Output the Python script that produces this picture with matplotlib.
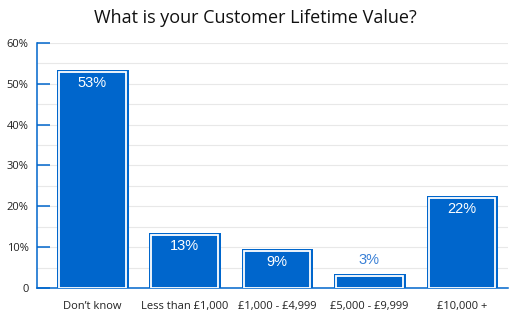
import matplotlib
matplotlib.use("Agg")
import matplotlib.pyplot as plt
from matplotlib.ticker import FixedLocator

categories = ["Don\u2019t know", "Less than \u00a31,000", "\u00a31,000 - \u00a34,999", "\u00a35,000 - \u00a39,999", "\u00a310,000 +"]
values = [53, 13, 9, 3, 22]
ytick_vals = [0, 10, 20, 30, 40, 50, 60]
ytick_labels = ["0", "10%", "20%", "30%", "40%", "50%", "60%"]

blue = "#0066CC"

fig = plt.figure(figsize=(5.1, 3.25), dpi=100)
ax = fig.add_axes([0.0725, 0.1138, 0.9235, 0.754])

x = list(range(len(categories)))
# outer blue ring
ax.bar(x, values, width=0.72, color=blue, edgecolor=blue, linewidth=3.6, zorder=2)
# white gap ring
ax.bar(x, values, width=0.72, color=blue, edgecolor="white", linewidth=1.3, zorder=3)

ax.set_xlim(-0.6, 4.5)
ax.set_ylim(0, 60)

ax.yaxis.set_major_locator(FixedLocator(ytick_vals))
ax.set_yticklabels(ytick_labels, fontsize=8, family="Open Sans", color="#222222")
ax.set_yticks(range(0, 61, 5), minor=True)
ax.grid(axis="y", which="both", color="#e8e8e8", linewidth=0.8, zorder=0)
ax.set_axisbelow(True)
ax.tick_params(axis="y", which="major", direction="in", length=9, width=1.1, color=blue, pad=6)
ax.tick_params(axis="y", which="minor", length=0)

ax.set_xticks(x)
ax.set_xticklabels(categories, fontsize=8, family="Open Sans", color="#222222")
ax.tick_params(axis="x", length=0, pad=9)

for s in ["top", "right"]:
    ax.spines[s].set_visible(False)
for s in ["left", "bottom"]:
    ax.spines[s].set_color(blue)
    ax.spines[s].set_linewidth(1.1)

for xi, v in zip(x, values):
    if v >= 8:
        ax.text(xi, v - 2.7, f"{v}%", ha="center", va="center", color="white",
                fontsize=10.5, family="Liberation Sans", zorder=5)
    else:
        ax.text(xi, v + 3.9, f"{v}%", ha="center", va="center", color="#3a80d6",
                fontsize=10.5, family="Liberation Sans", zorder=5)

fig.text(0.5, 0.945, "What is your Customer Lifetime Value?", ha="center", va="center",
         fontsize=13, family="Open Sans", color="#111111")

fig.savefig("out.png", dpi=100)
